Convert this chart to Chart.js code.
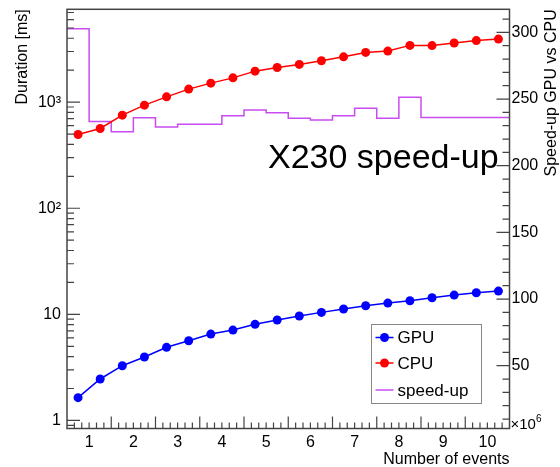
<!DOCTYPE html>
<html>
<head>
<meta charset="utf-8">
<script src="https://cdn.jsdelivr.net/npm/chart.js@4/dist/chart.umd.min.js"></script>
<style>
  html, body { margin: 0; padding: 0; background: #fff; }
  #wrap { width: 560px; height: 467px; }
</style>
</head>
<body>
<div id="wrap"><canvas id="c" width="560" height="467"></canvas></div>
<script>
// Number of events (millions), one point per bin centre
const nEvents = [0.75, 1.25, 1.75, 2.25, 2.75, 3.25, 3.75, 4.25, 4.75, 5.25,
                 5.75, 6.25, 6.75, 7.25, 7.75, 8.25, 8.75, 9.25, 9.75, 10.25];
// Processing time in ms
const gpuMs = [1.64, 2.46, 3.28, 3.96, 4.89, 5.64, 6.52, 7.11, 8.05, 8.84,
               9.64, 10.44, 11.22, 12.05, 12.77, 13.43, 14.33, 15.2, 15.97, 16.57];
const cpuMs = [496, 565, 754, 937, 1122, 1327, 1511, 1694, 1960, 2123,
               2268, 2454, 2675, 2942, 3028, 3427, 3413, 3606, 3805, 3930];
// Speed-up histogram: upper bin edges (millions) and contents
const binLowEdge = 0.5;
const binUpEdges = [1.0, 1.5, 2.0, 2.5, 3.0, 3.5, 4.0, 4.5, 5.0, 5.5,
                    6.0, 6.5, 7.0, 7.5, 8.0, 8.5, 9.0, 9.5, 10.0, 10.5];
const speedUp = [302.7, 233.2, 225.5, 236.0, 229.0, 231.0, 231.0, 237.5, 241.7, 239.7,
                 235.5, 234.2, 237.4, 243.0, 235.5, 251.3, 236.1, 236.1, 236.2, 236.2];

// Axis tick labels
const xTicks = [1, 2, 3, 4, 5, 6, 7, 8, 9, 10];
const durationTicks = [1, 10, 100, 1000];
const durationLabels = ['1', '10', '10\u00B2', '10\u00B3'];
const speedTicks = [50, 100, 150, 200, 250, 300];

const FONT = '"Liberation Sans", Arial, Helvetica, sans-serif';
const GPU_COLOR = '#0000ff';
const CPU_COLOR = '#ff0000';
const SPEED_COLOR = '#c84cf0';
const AXIS_COLOR = '#444444';

// histogram outline: each bin's content runs from its lower to its upper edge
const speedSteps = [{ x: binLowEdge, y: speedUp[0] }]
  .concat(binUpEdges.map((x, i) => ({ x, y: speedUp[i] })));

// ROOT-style frame, inward ticks, titles, legend and annotation
const rootStyle = {
  id: 'rootStyle',
  afterDraw(chart) {
    const ctx = chart.ctx;
    const a = chart.chartArea;
    const sx = chart.scales.x, sy = chart.scales.y, sy2 = chart.scales.y2;
    ctx.save();

    // frame
    ctx.strokeStyle = AXIS_COLOR;
    ctx.lineWidth = 1.5;
    ctx.strokeRect(a.left, a.top, a.right - a.left, a.bottom - a.top);

    ctx.lineWidth = 1.2;
    ctx.beginPath();
    // bottom axis: long ticks every unit at half values, 6 subdivisions
    for (let j = 1; j < 60; j++) {
      const v = sx.min + j / 6;
      const px = sx.getPixelForValue(v);
      const len = (j % 6 === 0) ? 12 : 6;
      ctx.moveTo(px, a.bottom);
      ctx.lineTo(px, a.bottom - len);
    }
    // left log axis
    for (let d = -1; d <= 3; d++) {
      for (let k = 1; k <= 9; k++) {
        const v = k * Math.pow(10, d);
        if (v < sy.min || v > sy.max) continue;
        const py = sy.getPixelForValue(v);
        const len = (k === 1) ? 13 : 7;
        ctx.moveTo(a.left, py);
        ctx.lineTo(a.left + len, py);
      }
    }
    // right linear axis
    for (let v = 10; v <= sy2.max; v += 10) {
      const py = sy2.getPixelForValue(v);
      const len = (v % 50 === 0) ? 13 : 7;
      ctx.moveTo(a.right, py);
      ctx.lineTo(a.right - len, py);
    }
    ctx.stroke();

    ctx.fillStyle = '#000';
    // x axis title and exponent
    ctx.font = '16px ' + FONT;
    ctx.textAlign = 'right';
    ctx.textBaseline = 'alphabetic';
    ctx.fillText('Number of events', a.right, 464);
    ctx.textAlign = 'left';
    ctx.font = '15px ' + FONT;
    ctx.fillText('\u00D710', a.right + 1, a.bottom);
    const w = ctx.measureText('\u00D710').width;
    ctx.font = '10px ' + FONT;
    ctx.fillText('6', a.right + 1 + w, a.bottom - 7);

    // left title
    ctx.font = '16px ' + FONT;
    ctx.save();
    ctx.translate(27, a.top);
    ctx.rotate(-Math.PI / 2);
    ctx.textAlign = 'right';
    ctx.fillText('Duration [ms]', 0, 0);
    ctx.restore();

    // right title
    ctx.save();
    ctx.translate(556, a.top);
    ctx.rotate(-Math.PI / 2);
    ctx.textAlign = 'right';
    ctx.fillText('Speed-up GPU vs CPU', 0, 0);
    ctx.restore();

    // annotation
    ctx.font = '34px ' + FONT;
    ctx.textAlign = 'left';
    ctx.fillText('X230 speed-up', 268, 168);

    // legend
    const lx = 371.5, ly = 324.5, lw = 110, lh = 79;
    ctx.fillStyle = '#fff';
    ctx.fillRect(lx, ly, lw, lh);
    ctx.strokeStyle = '#888';
    ctx.lineWidth = 1;
    ctx.strokeRect(lx, ly, lw, lh);
    const rows = [337.5, 363, 390];
    chart.data.datasets.forEach((ds, i) => {
      const ry = rows[i];
      ctx.strokeStyle = ds.borderColor;
      ctx.lineWidth = 1.5;
      ctx.beginPath();
      ctx.moveTo(lx + 4, ry);
      ctx.lineTo(lx + 22, ry);
      ctx.stroke();
      if (ds.pointRadius > 0) {
        ctx.fillStyle = ds.backgroundColor;
        ctx.beginPath();
        ctx.arc(lx + 13, ry, 4.5, 0, Math.PI * 2);
        ctx.fill();
      }
      ctx.fillStyle = '#000';
      ctx.font = '17px ' + FONT;
      ctx.textAlign = 'left';
      ctx.textBaseline = 'middle';
      ctx.fillText(ds.label, lx + 26, ry + 1);
    });
    ctx.restore();
  }
};

new Chart(document.getElementById('c'), {
  type: 'line',
  data: {
    datasets: [
      {
        label: 'GPU',
        data: nEvents.map((x, i) => ({ x, y: gpuMs[i] })),
        yAxisID: 'y',
        borderColor: GPU_COLOR,
        backgroundColor: GPU_COLOR,
        borderWidth: 1.5,
        pointRadius: 4.5,
        pointBorderWidth: 0,
        pointBackgroundColor: GPU_COLOR
      },
      {
        label: 'CPU',
        data: nEvents.map((x, i) => ({ x, y: cpuMs[i] })),
        yAxisID: 'y',
        borderColor: CPU_COLOR,
        backgroundColor: CPU_COLOR,
        borderWidth: 1.5,
        pointRadius: 4.5,
        pointBorderWidth: 0,
        pointBackgroundColor: CPU_COLOR
      },
      {
        label: 'speed-up',
        data: speedSteps,
        yAxisID: 'y2',
        stepped: 'after',
        borderColor: SPEED_COLOR,
        backgroundColor: SPEED_COLOR,
        borderWidth: 1.5,
        pointRadius: 0
      }
    ]
  },
  options: {
    responsive: false,
    devicePixelRatio: 1,
    animation: false,
    layout: { padding: { top: 9.3, left: 0, right: 0, bottom: 0 } },
    plugins: { legend: { display: false }, tooltip: { enabled: false } },
    scales: {
      x: {
        type: 'linear',
        min: 0.5, max: 10.5,
        grid: { display: false, drawTicks: false },
        border: { display: false },
        ticks: { color: '#000', font: { size: 16, family: FONT }, padding: 4, maxRotation: 0, autoSkip: false },
        afterBuildTicks: s => { s.ticks = xTicks.map(v => ({ value: v })); },
        afterFit: s => { s.height = 38.5; s.paddingLeft = 0; s.paddingRight = 0; }
      },
      y: {
        type: 'logarithmic',
        position: 'left',
        min: 0.84, max: 7500,
        grid: { display: false, drawTicks: false },
        border: { display: false },
        ticks: {
          color: '#000', font: { size: 16, family: FONT }, padding: 6, autoSkip: false,
          callback: v => { const i = durationTicks.indexOf(v); return i >= 0 ? durationLabels[i] : ''; }
        },
        afterBuildTicks: s => { s.ticks = durationTicks.map(v => ({ value: v })); },
        afterFit: s => { s.width = 67; s.paddingTop = 0; s.paddingBottom = 0; }
      },
      y2: {
        type: 'linear',
        position: 'right',
        min: 2.9, max: 317.3,
        grid: { display: false, drawTicks: false },
        border: { display: false },
        ticks: { color: '#000', font: { size: 16, family: FONT }, padding: 2, autoSkip: false },
        afterBuildTicks: s => { s.ticks = speedTicks.map(v => ({ value: v })); },
        afterFit: s => { s.width = 50.5; s.paddingTop = 0; s.paddingBottom = 0; }
      }
    }
  },
  plugins: [rootStyle]
});
</script>
</body>
</html>
